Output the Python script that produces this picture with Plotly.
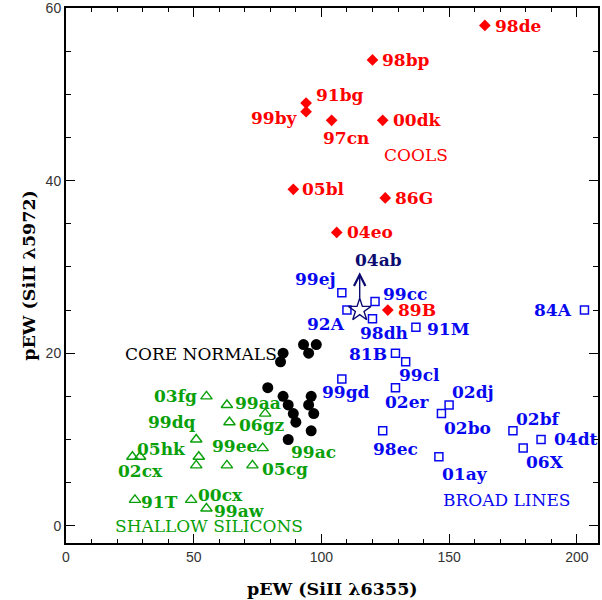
import plotly.graph_objects as go

# ---- data -------------------------------------------------------------
cools_names = ["98de", "98bp", "91bg", "99by", "97cn", "00dk", "05bl", "86G", "04eo", "89B"]
cools_x = [164, 120, 94, 94, 104, 124, 89, 125, 106, 126]
cools_y = [58, 54, 49, 48, 47, 47, 39, 38, 34, 25]

broad_names = ["99ej", "99cc", "92A", "98dh", "91M", "81B", "99cl", "99gd", "02er", "84A",
               "02dj", "02bo", "98ec", "01ay", "02bf", "04dt", "06X"]
broad_x = [108, 121, 110, 120, 137, 129, 133, 108, 129, 203, 150, 147, 124, 146, 175, 186, 179]
broad_y = [27, 26, 25, 24, 23, 20, 19, 17, 16, 25, 14, 13, 11, 8, 11, 10, 9]

core_x = [93, 98, 95, 85, 84, 79, 85, 96, 87, 95, 89, 97, 90, 96, 87]
core_y = [21, 21, 20, 20, 19, 16, 15, 15, 14, 14, 13, 13, 12, 11, 10]

shallow_names = ["03fg", "99aa", "", "06gz", "99dq", "99ee", "05hk", "", "", "02cx",
                 "", "05cg", "91T", "00cx", "99aw"]
shallow_x = [55, 63, 78, 64, 51, 77, 52, 51, 26, 29, 63, 73, 27, 49, 55]
shallow_y = [15, 14, 13, 12, 10, 9, 8, 7, 8, 8, 7, 7, 3, 3, 2]

special_name = "04ab"
special_x = [115]
special_y = [25]

# group captions: (text, x, y, colour key)
groups = [
    ("COOLS", 137, 43, "red"),
    ("BROAD LINES", 172.5, 3, "blue"),
    ("CORE NORMALS", 53, 19.9, "black"),
    ("SHALLOW SILICONS", 56, 0, "green"),
    ("99ac", 97, 8.5, "green"),
]

# ---- styling ----------------------------------------------------------
RED = "#ff0000"
BLUE = "#0808f0"
GREEN = "#0aa00a"
NAVY = "#0b0b70"
COLORS = {"red": RED, "blue": BLUE, "green": GREEN, "black": "#000000"}

SERIF = "DejaVu Serif"
LABEL_FONT_SIZE = 17

# per-label placement: (xanchor, xshift px, yshift px)
label_pos = {
    "98de": ("left", 8, -1), "98bp": ("left", 8, 0), "91bg": ("left", 8, 8),
    "99by": ("right", -6, -6), "97cn": ("center", 14, -18), "00dk": ("left", 8, 0),
    "05bl": ("left", 7, 0), "86G": ("left", 8, 0), "04eo": ("left", 8, 0),
    "89B": ("left", 8, 0),
    "99ej": ("right", -4, 14), "99cc": ("left", 6, 7), "92A": ("right", 0, -14),
    "98dh": ("center", 12, -14), "91M": ("left", 9, -2), "81B": ("right", -6, -1),
    "99cl": ("center", 14, -13), "99gd": ("center", 4, -13), "02er": ("center", 12, -14),
    "84A": ("right", -10, 0), "02dj": ("left", 1, 13), "02bo": ("left", 1, -14),
    "98ec": ("center", 13, -18), "01ay": ("left", 1, -17), "02bf": ("left", 1, 12),
    "04dt": ("left", 11, 0), "06X": ("left", 1, -14),
    "03fg": ("right", -7, 0), "99aa": ("left", 6, 2), "06gz": ("left", 8, -3),
    "99dq": ("right", 2, 17), "99ee": ("right", -4, 2), "05hk": ("right", -11, 8),
    "02cx": ("center", 0, -14), "05cg": ("left", 8, -4), "91T": ("left", 4, -2),
    "00cx": ("left", 5, 5), "99aw": ("left", 6, -2),
}

fig = go.Figure()

fig.add_trace(go.Scatter(
    x=core_x, y=core_y, mode="markers",
    marker=dict(symbol="circle", size=11, color="black", line=dict(width=0)),
))
fig.add_trace(go.Scatter(
    x=shallow_x, y=shallow_y, mode="markers",
    marker=dict(symbol="triangle-up-open", size=10, color=GREEN, line=dict(width=1.4, color=GREEN)),
))
fig.add_trace(go.Scatter(
    x=broad_x, y=broad_y, mode="markers",
    marker=dict(symbol="square-open", size=8, color=BLUE, line=dict(width=1.5, color=BLUE)),
))
fig.add_trace(go.Scatter(
    x=cools_x, y=cools_y, mode="markers",
    marker=dict(symbol="diamond", size=9, color=RED, line=dict(width=0)),
))
fig.add_trace(go.Scatter(
    x=special_x, y=special_y, mode="markers",
    marker=dict(symbol="star-open", size=17, color=NAVY, line=dict(width=1.4, color=NAVY)),
))

annotations = []


def add_labels(names, xs, ys, color):
    for n, xv, yv in zip(names, xs, ys):
        if not n:
            continue
        anchor, dx, dy = label_pos[n]
        annotations.append(dict(
            x=xv, y=yv, xref="x", yref="y", text=n, showarrow=False,
            xanchor=anchor, yanchor="middle", xshift=dx, yshift=dy,
            font=dict(family=SERIF, size=LABEL_FONT_SIZE, color=color, weight="bold"),
        ))


add_labels(cools_names, cools_x, cools_y, RED)
add_labels(broad_names, broad_x, broad_y, BLUE)
add_labels(shallow_names, shallow_x, shallow_y, GREEN)

# lower-limit arrow and label for the special object
sx, sy = special_x[0], special_y[0]
annotations.append(dict(
    x=sx, y=sy + 4.4, ax=sx, ay=sy + 1.2, xref="x", yref="y", axref="x", ayref="y",
    showarrow=True, arrowhead=5, arrowsize=1.6, arrowwidth=1.4, arrowcolor=NAVY, text="",
))
annotations.append(dict(
    x=sx, y=sy, xref="x", yref="y", text=special_name, showarrow=False,
    xanchor="center", yanchor="middle", xshift=19, yshift=50,
    font=dict(family=SERIF, size=LABEL_FONT_SIZE, color=NAVY, weight="bold"),
))

for text, gx, gy, ck in groups:
    bold = "bold" if text == "99ac" else "normal"
    annotations.append(dict(
        x=gx, y=gy, xref="x", yref="y", text=text, showarrow=False,
        xanchor="center", yanchor="middle",
        font=dict(family=SERIF, size=LABEL_FONT_SIZE, color=COLORS[ck], weight=bold),
    ))

# axis titles
annotations.append(dict(
    x=0.5, y=-0.086, xref="paper", yref="paper", text="pEW (SiII \u03bb6355)",
    showarrow=False, xanchor="center", yanchor="middle",
    font=dict(family=SERIF, size=17.5, color="black", weight="bold"),
))
annotations.append(dict(
    x=-0.071, y=0.5, xref="paper", yref="paper", text="pEW (SiII \u03bb5972)",
    showarrow=False, xanchor="center", yanchor="middle", textangle=-90,
    font=dict(family=SERIF, size=17.5, color="black", weight="bold"),
))

tickfont = dict(family="Liberation Sans", size=14, color="#333333")
axis_common = dict(
    showline=True, linecolor="black", linewidth=2, mirror="allticks",
    ticks="inside", ticklen=9, tickwidth=1.3, tickcolor="black",
    showgrid=False, zeroline=False, tickfont=tickfont,
    ticklabeloverflow="allow", automargin=False,
)

fig.update_layout(
    width=602, height=600,
    margin=dict(l=66, r=4, t=8, b=57),
    paper_bgcolor="white", plot_bgcolor="white",
    showlegend=False,
    annotations=annotations,
    xaxis=dict(range=[0, 208.3], tickvals=[0, 50, 100, 150, 200],
               minor=dict(dtick=10, tick0=0, ticks="inside", ticklen=4, tickwidth=1.2, tickcolor="black"),
               **axis_common),
    yaxis=dict(range=[-2, 60.02], tickvals=[0, 20, 40, 60],
               minor=dict(dtick=5, tick0=0, ticks="inside", ticklen=5, tickwidth=1.2, tickcolor="black"),
               **axis_common),
)

fig.write_html("out.html")
